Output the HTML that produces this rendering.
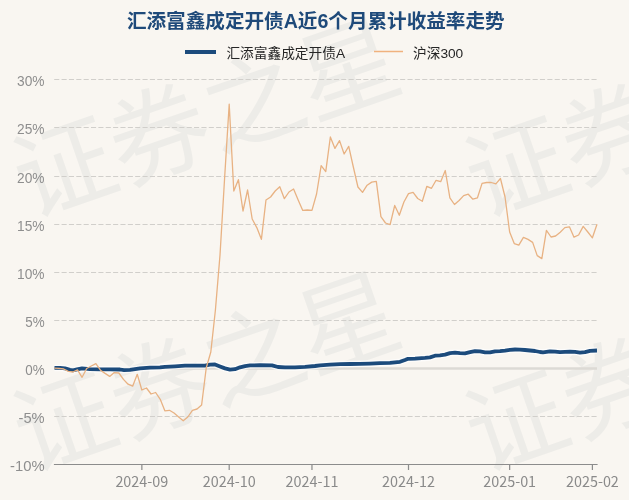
<!DOCTYPE html>
<html><head><meta charset="utf-8"><style>
html,body{margin:0;padding:0;}
body{width:629px;height:500px;overflow:hidden;background:#f9f6f1;position:relative;font-family:"Liberation Sans","Noto Sans CJK SC",sans-serif;}
svg{position:absolute;left:0;top:0;will-change:transform;}
.wm text{font-family:"Noto Sans CJK SC",sans-serif;font-weight:400;font-size:100px;fill:#edece8;}
.yl text{font-family:"Liberation Sans",sans-serif;font-size:15.1px;fill:#8e8e8e;}
.xl text{font-family:"Noto Sans CJK SC","Liberation Sans",sans-serif;font-size:14.4px;fill:#8a8a8a;}
.title{font-family:"Liberation Sans","Noto Sans CJK SC",sans-serif;font-weight:bold;font-size:19.6px;fill:#1f4a7a;}
.leg{font-family:"Liberation Sans","Noto Sans CJK SC",sans-serif;font-size:13.7px;fill:#262626;}
</style></head><body>
<svg width="629" height="500" viewBox="0 0 629 500">
<g class="wm">
<text x="29.00" y="218.00" transform="rotate(-19.16 29.00 218.00)">证券之星</text>
<text x="481.00" y="218.00" transform="rotate(-19.16 481.00 218.00)">证券之星</text>
<text x="29.00" y="472.00" transform="rotate(-19.16 29.00 472.00)">证券之星</text>
<text x="481.00" y="472.00" transform="rotate(-19.16 481.00 472.00)">证券之星</text>
<text x="-423.00" y="472.00" transform="rotate(-19.16 -423.00 472.00)">证券之星</text>
<text x="481.00" y="-36.00" transform="rotate(-19.16 481.00 -36.00)">证券之星</text>
<text x="933.00" y="218.00" transform="rotate(-19.16 933.00 218.00)">证券之星</text>
<text x="933.00" y="472.00" transform="rotate(-19.16 933.00 472.00)">证券之星</text>
</g>
<text class="title" x="315.8" y="27.6" text-anchor="middle">汇添富鑫成定开债A近6个月累计收益率走势</text>
<line x1="185" y1="52" x2="216" y2="52" stroke="#1c4b7c" stroke-width="4"/>
<text class="leg" x="226.4" y="57.5">汇添富鑫成定开债A</text>
<line x1="374" y1="51.5" x2="403" y2="51.5" stroke="#f0b27e" stroke-width="1.5"/>
<text class="leg" x="413" y="57.5">沪深300</text>
<g>
<line x1="54.2" y1="79.50" x2="597.0" y2="79.50" stroke="#d1cfcb" stroke-width="1.23" stroke-dasharray="5.1 2.26"/>
<line x1="54.2" y1="127.50" x2="597.0" y2="127.50" stroke="#d1cfcb" stroke-width="1.23" stroke-dasharray="5.1 2.26"/>
<line x1="54.2" y1="176.50" x2="597.0" y2="176.50" stroke="#d1cfcb" stroke-width="1.23" stroke-dasharray="5.1 2.26"/>
<line x1="54.2" y1="224.50" x2="597.0" y2="224.50" stroke="#d1cfcb" stroke-width="1.23" stroke-dasharray="5.1 2.26"/>
<line x1="54.2" y1="272.50" x2="597.0" y2="272.50" stroke="#d1cfcb" stroke-width="1.23" stroke-dasharray="5.1 2.26"/>
<line x1="54.2" y1="320.50" x2="597.0" y2="320.50" stroke="#d1cfcb" stroke-width="1.23" stroke-dasharray="5.1 2.26"/>
<line x1="54.5" y1="368.4" x2="597.0" y2="368.4" stroke="#dcdad5" stroke-width="2.5"/>
<line x1="54.2" y1="416.50" x2="597.0" y2="416.50" stroke="#d1cfcb" stroke-width="1.23" stroke-dasharray="5.1 2.26"/>
</g>
<g class="yl">
<text x="44.60" y="86.10" text-anchor="end" textLength="27.50" lengthAdjust="spacingAndGlyphs">30%</text>
<text x="44.60" y="134.10" text-anchor="end" textLength="27.50" lengthAdjust="spacingAndGlyphs">25%</text>
<text x="44.60" y="183.10" text-anchor="end" textLength="27.50" lengthAdjust="spacingAndGlyphs">20%</text>
<text x="44.60" y="231.10" text-anchor="end" textLength="27.50" lengthAdjust="spacingAndGlyphs">15%</text>
<text x="44.60" y="279.10" text-anchor="end" textLength="27.50" lengthAdjust="spacingAndGlyphs">10%</text>
<text x="44.60" y="327.10" text-anchor="end" textLength="19.40" lengthAdjust="spacingAndGlyphs">5%</text>
<text x="44.60" y="375.10" text-anchor="end" textLength="19.40" lengthAdjust="spacingAndGlyphs">0%</text>
<text x="44.60" y="423.10" text-anchor="end" textLength="26.10" lengthAdjust="spacingAndGlyphs">-5%</text>
<text x="44.60" y="471.10" text-anchor="end" textLength="34.50" lengthAdjust="spacingAndGlyphs">-10%</text>
</g>
<g>
<line x1="53.9" y1="464.5" x2="597.6" y2="464.5" stroke="#8c8c8c" stroke-width="1.23"/>
<line x1="141.85" y1="464.5" x2="141.85" y2="470" stroke="#8c8c8c" stroke-width="1.23"/>
<line x1="229.20" y1="464.5" x2="229.20" y2="470" stroke="#8c8c8c" stroke-width="1.23"/>
<line x1="311.96" y1="464.5" x2="311.96" y2="470" stroke="#8c8c8c" stroke-width="1.23"/>
<line x1="408.50" y1="464.5" x2="408.50" y2="470" stroke="#8c8c8c" stroke-width="1.23"/>
<line x1="509.65" y1="464.5" x2="509.65" y2="470" stroke="#8c8c8c" stroke-width="1.23"/>
<line x1="592.40" y1="464.5" x2="592.40" y2="470" stroke="#8c8c8c" stroke-width="1.23"/>
</g>
<g class="xl">
<text x="141.85" y="486.6" text-anchor="middle">2024-09</text>
<text x="229.20" y="486.6" text-anchor="middle">2024-10</text>
<text x="311.96" y="486.6" text-anchor="middle">2024-11</text>
<text x="408.50" y="486.6" text-anchor="middle">2024-12</text>
<text x="509.65" y="486.6" text-anchor="middle">2025-01</text>
<text x="592.40" y="486.6" text-anchor="middle">2025-02</text>
</g>
<polyline points="54.50,367.90 60.00,367.90 65.00,368.40 70.00,369.80 73.00,370.30 77.00,369.40 82.00,368.40 90.00,369.20 100.00,369.30 110.00,369.30 120.00,369.50 124.00,370.20 130.00,369.80 140.00,368.40 150.00,367.70 160.00,367.30 165.00,366.80 175.00,366.30 185.00,365.60 205.00,365.60 210.00,364.60 215.00,364.50 220.00,366.50 225.00,368.40 230.00,369.60 235.00,369.20 240.00,367.30 245.00,366.10 250.00,365.40 260.00,365.20 272.00,365.30 278.00,367.00 285.00,367.40 295.00,367.40 305.00,366.90 315.00,366.00 320.00,365.30 330.00,364.60 340.00,364.20 350.00,364.00 360.00,363.80 370.00,363.60 380.00,363.20 390.00,362.90 400.00,361.80 405.00,360.00 408.00,358.80 415.00,358.60 425.00,357.90 430.00,357.40 435.00,355.70 440.00,355.30 445.00,354.60 450.00,353.10 455.00,352.70 460.00,353.10 465.00,353.30 470.00,352.20 475.00,351.20 480.00,351.40 485.00,352.30 490.00,352.40 495.00,351.40 500.00,351.20 505.00,350.60 510.00,349.80 515.00,349.50 520.00,349.60 525.00,350.00 530.00,350.50 535.00,351.00 540.00,352.00 543.00,352.40 550.00,351.30 555.00,351.60 560.00,352.20 565.00,351.90 570.00,351.70 575.00,351.90 580.00,352.60 585.00,352.10 590.00,350.80 597.00,350.50" fill="none" stroke="#ffffff" stroke-opacity="0.7" stroke-width="6.5" stroke-linejoin="round"/>
<polyline points="54.50,367.90 60.00,367.90 65.00,368.40 70.00,369.80 73.00,370.30 77.00,369.40 82.00,368.40 90.00,369.20 100.00,369.30 110.00,369.30 120.00,369.50 124.00,370.20 130.00,369.80 140.00,368.40 150.00,367.70 160.00,367.30 165.00,366.80 175.00,366.30 185.00,365.60 205.00,365.60 210.00,364.60 215.00,364.50 220.00,366.50 225.00,368.40 230.00,369.60 235.00,369.20 240.00,367.30 245.00,366.10 250.00,365.40 260.00,365.20 272.00,365.30 278.00,367.00 285.00,367.40 295.00,367.40 305.00,366.90 315.00,366.00 320.00,365.30 330.00,364.60 340.00,364.20 350.00,364.00 360.00,363.80 370.00,363.60 380.00,363.20 390.00,362.90 400.00,361.80 405.00,360.00 408.00,358.80 415.00,358.60 425.00,357.90 430.00,357.40 435.00,355.70 440.00,355.30 445.00,354.60 450.00,353.10 455.00,352.70 460.00,353.10 465.00,353.30 470.00,352.20 475.00,351.20 480.00,351.40 485.00,352.30 490.00,352.40 495.00,351.40 500.00,351.20 505.00,350.60 510.00,349.80 515.00,349.50 520.00,349.60 525.00,350.00 530.00,350.50 535.00,351.00 540.00,352.00 543.00,352.40 550.00,351.30 555.00,351.60 560.00,352.20 565.00,351.90 570.00,351.70 575.00,351.90 580.00,352.60 585.00,352.10 590.00,350.80 597.00,350.50" fill="none" stroke="#1c4b7c" stroke-width="3.8" stroke-linejoin="round"/>
<polyline points="54.50,368.20 59.10,368.30 63.69,369.00 68.29,371.30 72.89,372.00 77.49,369.80 82.08,377.30 86.68,368.50 91.28,366.00 95.88,363.60 100.47,370.20 105.07,373.40 109.67,376.40 114.27,372.60 118.86,373.00 123.46,379.40 128.06,384.20 132.66,386.20 137.25,374.30 141.85,390.00 146.45,388.00 151.05,394.00 155.64,392.50 160.24,399.30 164.84,410.80 169.44,410.30 174.03,413.00 178.63,417.00 183.23,420.80 187.83,417.00 192.42,410.30 197.02,409.00 201.62,405.00 206.22,368.00 210.81,352.00 215.41,310.00 220.01,255.00 224.61,178.00 229.20,104.20 233.80,191.00 238.40,179.70 243.00,211.00 247.59,190.00 252.19,219.00 256.79,227.60 261.39,239.30 265.98,200.00 270.58,197.00 275.18,191.00 279.78,186.70 284.37,198.70 288.97,192.00 293.57,189.00 298.17,200.00 302.76,210.40 307.36,210.00 311.96,210.40 316.56,194.00 321.15,165.60 325.75,171.60 330.35,137.00 334.94,148.40 339.54,140.60 344.14,154.00 348.74,146.40 353.33,167.00 357.93,187.00 362.53,192.40 367.13,185.20 371.72,182.10 376.32,181.30 380.92,216.60 385.52,223.00 390.11,224.60 394.71,205.50 399.31,215.20 403.91,202.00 408.50,193.60 413.10,192.40 417.70,198.50 422.30,201.30 426.89,186.30 431.49,188.30 436.09,180.30 440.69,181.70 445.28,170.50 449.88,197.80 454.48,204.50 459.08,200.50 463.67,195.60 468.27,194.20 472.87,199.20 477.47,197.80 482.06,183.40 486.66,182.50 491.26,182.50 495.86,183.90 500.45,178.50 505.05,197.00 509.65,232.00 514.25,243.60 518.84,245.20 523.44,237.40 528.04,239.40 532.64,242.40 537.23,255.60 541.83,258.60 546.43,230.40 551.03,237.00 555.62,236.00 560.22,232.20 564.82,227.60 569.42,226.80 574.01,237.20 578.61,235.00 583.21,226.40 587.81,232.00 592.40,237.80 597.00,224.30" fill="none" stroke="#e8b283" stroke-width="1.3" stroke-linejoin="round"/>
</svg>
</body></html>
